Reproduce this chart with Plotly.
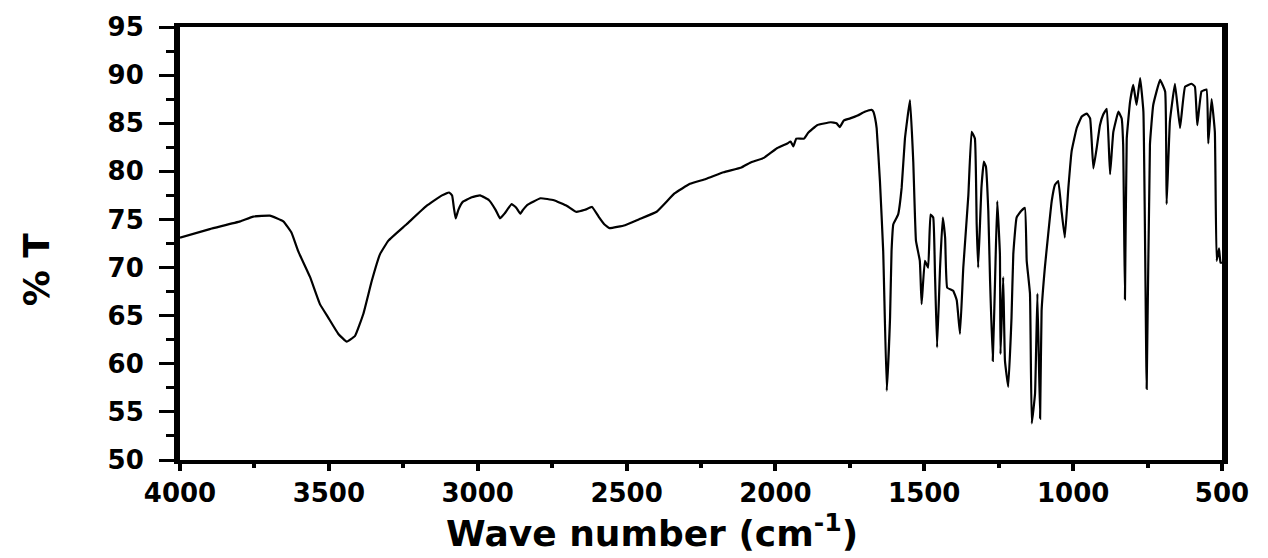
import plotly.graph_objects as go

# FTIR transmittance spectrum: wavenumber (cm^-1) and percent transmittance
wavenumber = [
    4000, 3900, 3798, 3754, 3698, 3653, 3625, 3603, 3563, 3530, 3502, 3468, 3440, 3412,
    3384, 3356, 3328, 3300, 3239, 3172, 3120, 3096, 3086, 3080, 3074, 3065, 3051, 3020,
    2992, 2962, 2940, 2925, 2910, 2886, 2870, 2857, 2848, 2834, 2789, 2744, 2700, 2670,
    2640, 2616, 2594, 2575, 2557, 2505, 2459, 2399, 2339, 2287, 2234, 2174, 2114, 2085,
    2039, 1995, 1960, 1949, 1940, 1930, 1904, 1890, 1860, 1814, 1795, 1784, 1770, 1749,
    1724, 1700, 1677, 1671, 1665, 1660, 1649, 1638, 1626, 1615, 1610, 1604, 1588, 1576,
    1565, 1548, 1537, 1528, 1515, 1509, 1498, 1487, 1479, 1470, 1464, 1457, 1447, 1438,
    1430, 1423, 1403, 1391, 1380, 1369, 1352, 1341, 1330, 1324, 1319, 1308, 1300, 1293,
    1285, 1279, 1270, 1262, 1255, 1246, 1244, 1235, 1229, 1218, 1207, 1201, 1190, 1174,
    1162, 1156, 1145, 1139, 1128, 1120, 1111, 1106, 1095, 1084, 1072, 1061, 1050, 1039,
    1028, 1016, 1005, 988, 971, 954, 943, 932, 921, 910, 899, 887, 876, 865,
    848, 837, 832, 826, 820, 809, 798, 787, 775, 764, 753, 742, 731, 708,
    691, 686, 675, 658, 641, 624, 602, 591, 583, 569, 552, 546, 535, 524,
    518, 510, 505, 500,
]
transmittance = [
    73.1, 74.0, 74.8, 75.3, 75.4, 74.8, 73.6, 71.7, 69.0, 66.2, 64.8, 63.1, 62.3, 62.9,
    65.2, 68.6, 71.4, 72.8, 74.5, 76.4, 77.5, 77.8, 77.5, 76.2, 75.1, 76.0, 76.8, 77.3,
    77.5, 77.0, 76.0, 75.1, 75.6, 76.6, 76.2, 75.6, 76.0, 76.5, 77.2, 77.0, 76.4, 75.8,
    76.0, 76.3, 75.3, 74.5, 74.1, 74.4, 75.0, 75.8, 77.7, 78.7, 79.2, 79.9, 80.4, 80.9,
    81.4, 82.4, 82.9, 83.1, 82.6, 83.4, 83.4, 84.0, 84.8, 85.1, 85.0, 84.6, 85.3, 85.5,
    85.8, 86.2, 86.4, 86.2, 85.5, 84.5, 79.0, 71.7, 57.2, 64.8, 71.7, 74.5, 75.5, 78.3,
    83.4, 87.4, 81.0, 72.8, 70.7, 66.2, 70.7, 70.0, 75.5, 75.2, 69.3, 61.7, 70.0, 75.2,
    73.1, 67.9, 67.6, 66.6, 63.1, 70.0, 77.5, 84.1, 83.4, 74.5, 70.0, 78.3, 81.0, 80.5,
    75.9, 68.6, 60.3, 69.0, 76.9, 71.4, 61.0, 69.0, 60.3, 57.6, 64.8, 71.4, 75.2, 75.9,
    76.2, 70.7, 67.3, 53.8, 56.9, 67.3, 54.3, 65.5, 70.0, 73.4, 76.9, 78.6, 79.0, 75.9,
    73.1, 78.3, 82.1, 84.5, 85.7, 86.0, 85.5, 80.3, 82.4, 84.8, 85.9, 86.5, 79.7, 84.1,
    86.2, 85.5, 82.8, 66.7, 83.4, 87.2, 89.0, 86.9, 89.7, 86.2, 57.4, 82.8, 86.9, 89.5,
    88.3, 76.6, 85.2, 89.1, 84.5, 88.8, 89.1, 88.8, 84.8, 88.3, 88.5, 82.9, 87.5, 84.1,
    70.7, 72.0, 70.5, 70.5,
]

x_range = [4000, 500]
y_range = [50, 95]
x_title = "Wave number (cm<sup>-1</sup>)"
y_title = "% T"

FONT = "DejaVu Sans"

fig = go.Figure(
    go.Scatter(
        x=wavenumber,
        y=transmittance,
        mode="lines",
        line=dict(color="black", width=2.2, shape="spline", smoothing=0.3),
        showlegend=False,
    )
)

fig.update_layout(
    width=1268,
    height=558,
    margin=dict(l=180, r=46, t=25, b=98, pad=0),
    paper_bgcolor="white",
    plot_bgcolor="white",
    font=dict(family=FONT, color="black"),
)

fig.update_xaxes(
    range=x_range,
    tick0=500,
    dtick=500,
    ticks="outside",
    ticklen=7,
    tickwidth=4,
    tickcolor="black",
    showline=True,
    linewidth=4,
    linecolor="black",
    mirror=True,
    showgrid=False,
    zeroline=False,
    tickfont=dict(family=FONT, size=26, weight="bold", color="black"),
    ticklabelstandoff=0,
    minor=dict(ticks="outside", dtick=250, tick0=500, ticklen=4, tickwidth=4,
               tickcolor="black", showgrid=False),
)

fig.update_yaxes(
    range=y_range,
    tick0=50,
    dtick=5,
    ticks="outside",
    ticklen=15,
    tickwidth=3,
    tickcolor="black",
    showline=True,
    linewidth=6,
    linecolor="black",
    mirror=True,
    showgrid=False,
    zeroline=False,
    tickfont=dict(family=FONT, size=26, weight="bold", color="black"),
    ticklabelstandoff=10,
    minor=dict(ticks="outside", dtick=2.5, tick0=50, ticklen=8, tickwidth=3,
               tickcolor="black", showgrid=False),
)

# Axis titles placed as annotations
fig.add_annotation(
    text=x_title, xref="paper", yref="paper", x=0.453, y=-0.222,
    xanchor="center", yanchor="bottom", showarrow=False,
    font=dict(family=FONT, size=36, weight="bold", color="black"),
)
fig.add_annotation(
    text=y_title, xref="paper", yref="paper", x=-0.138, y=0.441,
    xanchor="center", yanchor="middle", textangle=-90, showarrow=False,
    font=dict(family=FONT, size=36, weight="bold", color="black"),
)

fig.write_html("out.html")
